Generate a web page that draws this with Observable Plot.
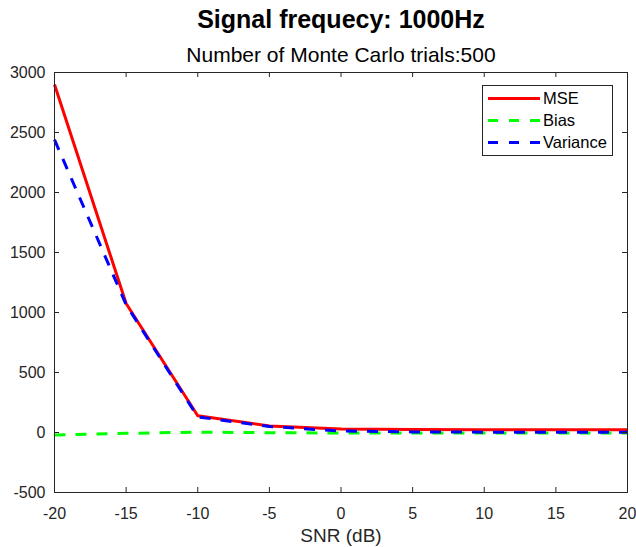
<!DOCTYPE html>
<html><head><meta charset="utf-8">
<script src="https://cdn.jsdelivr.net/npm/d3@7"></script>
<script src="https://cdn.jsdelivr.net/npm/@observablehq/plot@0.6"></script>
<style>body{margin:0;background:#fff}</style>
</head><body><div id="chart"></div>
<script>
const snr = [-20, -15, -10, -5, 0, 5, 10, 15, 20];
const mse = [2900, 1075, 140, 55, 30, 25, 23, 22, 22];
const bias = [-21, -7, 3, -2, -4, -4.5, -4.5, -4.5, -4.5];
const variance = [2440, 1065, 130, 50, 12, 5, 3, 3, 3];
const xTicks = [-20, -15, -10, -5, 0, 5, 10, 15, 20];
const yTicks = [-500, 0, 500, 1000, 1500, 2000, 2500, 3000];
const seriesNames = ["MSE", "Bias", "Variance"];
const seriesColors = ["#ff0000", "#00ff00", "#0000ff"];
const seriesDash = [null, "11,10", "11,10"];
const titleText = "Signal frequecy: 1000Hz";
const subtitleText = "Number of Monte Carlo trials:500";
const xLabel = "SNR (dB)";

const W = 636, H = 547, mL = 54, mR = 9, mT = 72, mB = 55;
const pw = W - mL - mR, ph = H - mT - mB;
const seriesValues = [mse, bias, variance];
const FONT = "'Liberation Sans', Arial, Helvetica, sans-serif";
const AX = "#262626";

const lineMarks = seriesValues.map((vals, i) =>
  Plot.line(snr.map((x, j) => ({x, y: vals[j]})), {
    x: "x", y: "y", stroke: seriesColors[i], strokeWidth: 3,
    strokeDasharray: seriesDash[i] ?? undefined,
    strokeLinejoin: "round", strokeLinecap: "butt"
  })
);

const chart = Plot.plot({
  width: W, height: H,
  marginLeft: mL, marginRight: mR, marginTop: mT, marginBottom: mB,
  style: {fontFamily: FONT, fontSize: "16px", color: AX, background: "#fff", overflow: "visible"},
  x: {domain: [-20, 20], label: null},
  y: {domain: [-500, 3000], label: null},
  marks: [
    ...lineMarks,
    Plot.axisX(xTicks, {tickSize: 0, tickPadding: 15, tickFormat: d => String(d), label: null, fill: AX, fontSize: 16}),
    Plot.axisY(yTicks, {tickSize: 0, tickPadding: 9, tickFormat: d => String(d), label: null, fill: AX, fontSize: 16}),
    Plot.tickX(xTicks, {x: d => d, insetTop: ph - 5, stroke: AX}),
    Plot.tickX(xTicks, {x: d => d, insetBottom: ph - 5, stroke: AX}),
    Plot.tickY(yTicks, {y: d => d, insetRight: pw - 5, stroke: AX}),
    Plot.tickY(yTicks, {y: d => d, insetLeft: pw - 5, stroke: AX}),
    Plot.frame({stroke: AX, strokeWidth: 1})
  ]
});

const svg = d3.select(chart);
const cx = mL + pw / 2 + 0.5;
svg.append("text").attr("x", cx).attr("y", 28).attr("text-anchor", "middle")
  .attr("font-family", FONT).attr("font-size", 25).attr("font-weight", "bold").attr("fill", "#000")
  .text(titleText);
svg.append("text").attr("x", cx).attr("y", 62).attr("text-anchor", "middle")
  .attr("font-family", FONT).attr("font-size", 21).attr("fill", "#000")
  .text(subtitleText);
svg.append("text").attr("x", cx).attr("y", 542).attr("text-anchor", "middle")
  .attr("font-family", FONT).attr("font-size", 19).attr("fill", AX)
  .text(xLabel);

// legend
const lg = svg.append("g");
lg.append("rect").attr("x", 482.5).attr("y", 85.5).attr("width", 130).attr("height", 70)
  .attr("fill", "#fff").attr("stroke", AX).attr("stroke-width", 1);
seriesNames.forEach((name, i) => {
  const y = 98.5 + i * 22;
  lg.append("line").attr("x1", 488).attr("x2", 540).attr("y1", y).attr("y2", y)
    .attr("stroke", seriesColors[i]).attr("stroke-width", 3)
    .attr("stroke-dasharray", seriesDash[i] ? "10,11" : null);
  lg.append("text").attr("x", 543).attr("y", y).attr("dy", "0.36em").attr("text-anchor", "start")
    .attr("font-family", FONT).attr("font-size", 16.5).attr("fill", "#000").text(name);
});

document.getElementById("chart").appendChild(chart);
</script>
</body></html>
